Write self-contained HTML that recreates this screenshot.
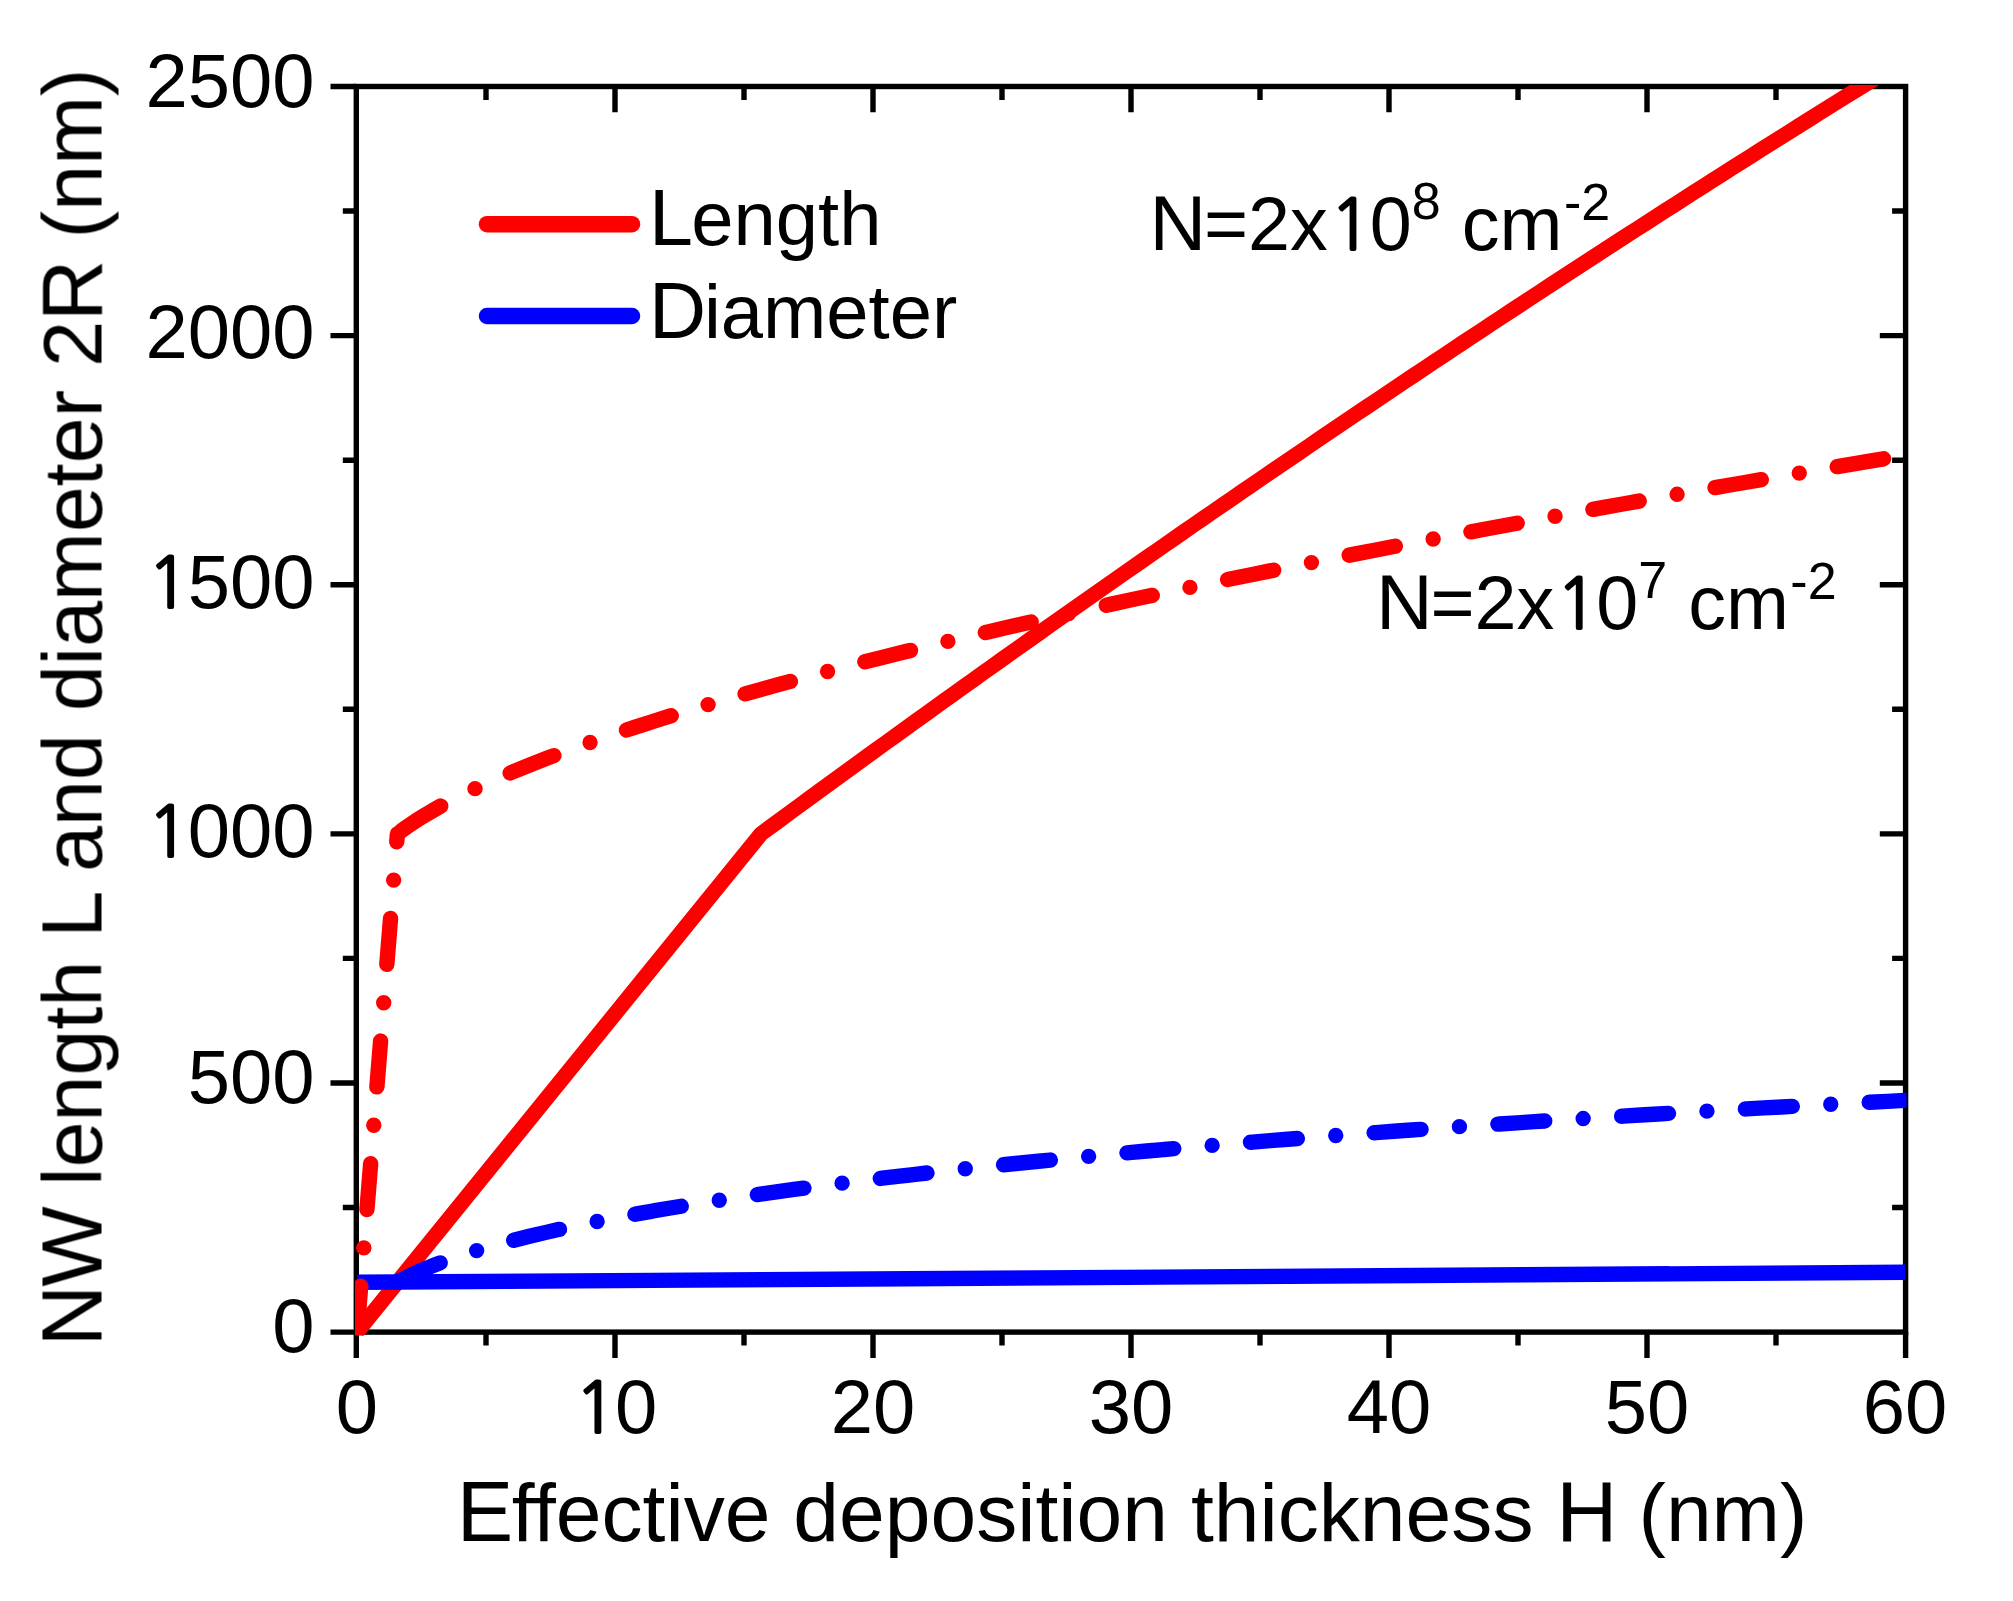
<!DOCTYPE html><html><head><meta charset="utf-8"><style>html,body{margin:0;padding:0;background:#fff;}svg{display:block}text{font-family:"Liberation Sans",Arial,sans-serif;fill:#000}</style></head><body>
<svg width="2013" height="1601" viewBox="0 0 2013 1601">
<rect x="0" y="0" width="2013" height="1601" fill="#fff"/>
<defs><clipPath id="pc"><rect x="355" y="85" width="1551.5" height="1250.5"/></clipPath><filter id="soft" x="0" y="0" width="100%" height="100%" filterUnits="userSpaceOnUse"><feGaussianBlur stdDeviation="0.6"/></filter></defs>
<g filter="url(#soft)">
<rect x="356.3" y="86.5" width="1549.30" height="1245.60" fill="none" stroke="#000" stroke-width="5.4"/>
<path d="M330.50,1332.10H356.3M342.80,1207.54H356.3M1905.6,1207.54H1892.10M330.50,1082.98H356.3M1905.6,1082.98H1879.80M342.80,958.42H356.3M1905.6,958.42H1892.10M330.50,833.86H356.3M1905.6,833.86H1879.80M342.80,709.30H356.3M1905.6,709.30H1892.10M330.50,584.74H356.3M1905.6,584.74H1879.80M342.80,460.18H356.3M1905.6,460.18H1892.10M330.50,335.62H356.3M1905.6,335.62H1879.80M342.80,211.06H356.3M1905.6,211.06H1892.10M330.50,86.50H356.3M356.30,1332.1V1357.90M486.00,1332.1V1345.60M486.00,86.5V100.00M615.00,1332.1V1357.90M615.00,86.5V112.30M744.00,1332.1V1345.60M744.00,86.5V100.00M873.00,1332.1V1357.90M873.00,86.5V112.30M1002.00,1332.1V1345.60M1002.00,86.5V100.00M1131.00,1332.1V1357.90M1131.00,86.5V112.30M1260.00,1332.1V1345.60M1260.00,86.5V100.00M1389.00,1332.1V1357.90M1389.00,86.5V112.30M1518.00,1332.1V1345.60M1518.00,86.5V100.00M1647.00,1332.1V1357.90M1647.00,86.5V112.30M1776.00,1332.1V1345.60M1776.00,86.5V100.00M1905.60,1332.1V1357.90" stroke="#000" stroke-width="5.4" fill="none"/>
<g clip-path="url(#pc)" fill="none" stroke-width="15.40" stroke-linecap="round" stroke-linejoin="round">
<path d="M357.00,1332.10 L761.03,833.86 L770.64,826.78 L780.25,819.72 L789.87,812.66 L799.48,805.62 L809.09,798.58 L818.71,791.55 L828.32,784.53 L837.93,777.53 L847.55,770.53 L857.16,763.54 L866.77,756.56 L876.39,749.59 L886.00,742.63 L895.61,735.68 L905.23,728.74 L914.84,721.81 L924.45,714.89 L934.07,707.98 L943.68,701.08 L953.29,694.19 L962.91,687.30 L972.52,680.43 L982.13,673.57 L991.75,666.72 L1001.36,659.87 L1010.97,653.04 L1020.58,646.21 L1030.20,639.40 L1039.81,632.60 L1049.42,625.80 L1059.04,619.02 L1068.65,612.24 L1078.26,605.47 L1087.88,598.72 L1097.49,591.97 L1107.10,585.23 L1116.72,578.51 L1126.33,571.79 L1135.94,565.08 L1145.56,558.38 L1155.17,551.70 L1164.78,545.02 L1174.40,538.35 L1184.01,531.69 L1193.62,525.04 L1203.24,518.40 L1212.85,511.77 L1222.46,505.15 L1232.08,498.54 L1241.69,491.94 L1251.30,485.35 L1260.91,478.76 L1270.53,472.19 L1280.14,465.63 L1289.75,459.08 L1299.37,452.53 L1308.98,446.00 L1318.59,439.48 L1328.21,432.96 L1337.82,426.46 L1347.43,419.96 L1357.05,413.48 L1366.66,407.00 L1376.27,400.54 L1385.89,394.08 L1395.50,387.63 L1405.11,381.20 L1414.73,374.77 L1424.34,368.35 L1433.95,361.95 L1443.57,355.55 L1453.18,349.16 L1462.79,342.78 L1472.41,336.41 L1482.02,330.05 L1491.63,323.70 L1501.25,317.37 L1510.86,311.04 L1520.47,304.71 L1530.08,298.40 L1539.70,292.10 L1549.31,285.81 L1558.92,279.53 L1568.54,273.26 L1578.15,267.00 L1587.76,260.74 L1597.38,254.50 L1606.99,248.27 L1616.60,242.04 L1626.22,235.83 L1635.83,229.63 L1645.44,223.43 L1655.06,217.25 L1664.67,211.07 L1674.28,204.91 L1683.90,198.75 L1693.51,192.60 L1703.12,186.47 L1712.74,180.34 L1722.35,174.22 L1731.96,168.12 L1741.58,162.02 L1751.19,155.93 L1760.80,149.85 L1770.42,143.78 L1780.03,137.73 L1789.64,131.68 L1799.25,125.64 L1808.87,119.61 L1818.48,113.59 L1828.09,107.58 L1837.71,101.58 L1847.32,95.58 L1856.93,89.60 L1866.55,83.63 L1876.16,77.67 L1885.77,71.72 L1895.39,65.77 L1905.00,59.84" stroke="#f00" stroke-linecap="butt"/>
<path d="M357.00,1282.28 L1905.00,1272.31" stroke="#00f" stroke-linecap="butt"/>
<path d="M357.00,1332.10 L397.40,833.86" stroke="#f00" stroke-dasharray="46 38.5 0 38.5"/>
<path d="M397.40,833.86 L401.35,830.89 L405.29,828.03 L409.24,825.28 L413.18,822.63 L417.13,820.06 L421.07,817.57 L425.02,815.14 L428.96,812.78 L432.91,810.48 L436.85,808.23 L440.79,806.03 L444.74,803.88 L448.68,801.77 L452.63,799.70 L456.57,797.67 L460.52,795.68 L464.46,793.72 L468.41,791.79 L472.35,789.89 L476.30,788.02 L480.24,786.18 L484.19,784.36 L488.13,782.57 L492.08,780.80 L496.02,779.05 L499.97,777.33 L503.91,775.63 L507.86,773.95 L511.80,772.28 L529.44,765.06 L547.07,758.16 L564.71,751.53 L582.34,745.14 L599.98,738.96 L617.61,732.97 L635.25,727.14 L652.88,721.48 L670.52,715.95 L688.15,710.55 L705.79,705.27 L723.43,700.10 L741.06,695.03 L758.70,690.06 L776.33,685.17 L793.97,680.37 L811.60,675.65 L829.24,671.00 L846.87,666.42 L864.51,661.91 L882.14,657.46 L899.78,653.07 L917.42,648.73 L935.05,644.45 L952.69,640.22 L970.32,636.04 L987.96,631.91 L1005.59,627.82 L1023.23,623.77 L1040.86,619.77 L1058.50,615.81 L1076.13,611.88 L1093.77,607.99 L1111.41,604.14 L1129.04,600.33 L1146.68,596.54 L1164.31,592.79 L1181.95,589.07 L1199.58,585.38 L1217.22,581.72 L1234.85,578.08 L1252.49,574.48 L1270.12,570.90 L1287.76,567.35 L1305.39,563.82 L1323.03,560.32 L1340.67,556.84 L1358.30,553.38 L1375.94,549.95 L1393.57,546.54 L1411.21,543.15 L1428.84,539.78 L1446.48,536.43 L1464.11,533.10 L1481.75,529.79 L1499.38,526.50 L1517.02,523.23 L1534.66,519.98 L1552.29,516.74 L1569.93,513.53 L1587.56,510.32 L1605.20,507.14 L1622.83,503.97 L1640.47,500.82 L1658.10,497.68 L1675.74,494.56 L1693.37,491.45 L1711.01,488.36 L1728.65,485.28 L1746.28,482.22 L1763.92,479.17 L1781.55,476.13 L1799.19,473.11 L1816.82,470.10 L1834.46,467.10 L1852.09,464.12 L1869.73,461.14 L1887.36,458.18 L1905.00,455.24" stroke="#f00" stroke-dasharray="47 38.5 0 38.5" stroke-dashoffset="-4.5"/>
<path d="M397.40,1282.28 L401.35,1280.10 L405.29,1278.03 L409.24,1276.05 L413.18,1274.16 L417.13,1272.34 L421.07,1270.59 L425.02,1268.90 L428.96,1267.26 L432.91,1265.68 L436.85,1264.14 L440.79,1262.65 L444.74,1261.19 L448.68,1259.78 L452.63,1258.39 L456.57,1257.04 L460.52,1255.73 L464.46,1254.44 L468.41,1253.17 L472.35,1251.94 L476.30,1250.73 L480.24,1249.54 L484.19,1248.37 L488.13,1247.23 L492.08,1246.10 L496.02,1245.00 L499.97,1243.91 L503.91,1242.84 L507.86,1241.79 L511.80,1240.76 L529.44,1236.31 L547.07,1232.13 L564.71,1228.18 L582.34,1224.43 L599.98,1220.86 L617.61,1217.45 L635.25,1214.18 L652.88,1211.03 L670.52,1208.01 L688.15,1205.09 L705.79,1202.27 L723.43,1199.54 L741.06,1196.90 L758.70,1194.33 L776.33,1191.84 L793.97,1189.42 L811.60,1187.06 L829.24,1184.77 L846.87,1182.53 L864.51,1180.34 L882.14,1178.21 L899.78,1176.13 L917.42,1174.09 L935.05,1172.10 L952.69,1170.15 L970.32,1168.24 L987.96,1166.37 L1005.59,1164.53 L1023.23,1162.73 L1040.86,1160.97 L1058.50,1159.24 L1076.13,1157.54 L1093.77,1155.87 L1111.41,1154.23 L1129.04,1152.62 L1146.68,1151.03 L1164.31,1149.48 L1181.95,1147.94 L1199.58,1146.44 L1217.22,1144.95 L1234.85,1143.49 L1252.49,1142.06 L1270.12,1140.64 L1287.76,1139.25 L1305.39,1137.87 L1323.03,1136.52 L1340.67,1135.19 L1358.30,1133.87 L1375.94,1132.57 L1393.57,1131.29 L1411.21,1130.03 L1428.84,1128.79 L1446.48,1127.56 L1464.11,1126.35 L1481.75,1125.16 L1499.38,1123.98 L1517.02,1122.81 L1534.66,1121.66 L1552.29,1120.53 L1569.93,1119.40 L1587.56,1118.30 L1605.20,1117.20 L1622.83,1116.12 L1640.47,1115.05 L1658.10,1114.00 L1675.74,1112.96 L1693.37,1111.93 L1711.01,1110.91 L1728.65,1109.90 L1746.28,1108.91 L1763.92,1107.92 L1781.55,1106.95 L1799.19,1105.99 L1816.82,1105.04 L1834.46,1104.09 L1852.09,1103.16 L1869.73,1102.24 L1887.36,1101.33 L1905.00,1100.43" stroke="#00f" stroke-dasharray="47 38.5 0 38.5"/>
</g>
<path d="M487,224.2H632" stroke="#f00" stroke-width="16.5" stroke-linecap="round"/>
<path d="M487,316H632" stroke="#00f" stroke-width="16.5" stroke-linecap="round"/>
<text x="649" y="245.4" font-size="76"><tspan font-size="79.04">L</tspan><tspan dx="-1.69">ength</tspan></text>
<text x="649" y="337.9" font-size="76"><tspan font-size="79.04">D</tspan><tspan dx="-2.19">iameter</tspan></text>
<text x="272.23" y="1352.3" font-size="76">0</text>
<text x="187.70" y="1103.3" font-size="76">500</text>
<text x="145.43" y="856.8" font-size="76"><tspan font-family="NanumGothic, sans-serif" font-size="70.68" style="stroke:#000;stroke-width:2px" dx="1.52">1</tspan><tspan dx="-2.08">000</tspan></text>
<text x="145.43" y="607.7" font-size="76"><tspan font-family="NanumGothic, sans-serif" font-size="70.68" style="stroke:#000;stroke-width:2px" dx="1.52">1</tspan><tspan dx="-2.08">500</tspan></text>
<text x="145.43" y="358.4" font-size="76">2000</text>
<text x="145.43" y="107.3" font-size="76">2500</text>
<text x="335.87" y="1433" font-size="76">0</text>
<text x="572.73" y="1433" font-size="76"><tspan font-family="NanumGothic, sans-serif" font-size="70.68" style="stroke:#000;stroke-width:2px" dx="1.52">1</tspan><tspan dx="-2.08">0</tspan></text>
<text x="830.73" y="1433" font-size="76">20</text>
<text x="1088.73" y="1433" font-size="76">30</text>
<text x="1346.73" y="1433" font-size="76">40</text>
<text x="1604.73" y="1433" font-size="76">50</text>
<text x="1862.73" y="1433" font-size="76">60</text>
<text x="456.8" y="1541" font-size="82.2"><tspan font-size="84.67">E</tspan><tspan dx="-1.64">ffective deposition thickness </tspan><tspan font-size="84.67">H</tspan><tspan dx="-1.78"> (nm)</tspan></text>
<text x="0" y="0" font-size="82.6" transform="translate(101.5,1346.4) rotate(-90)"><tspan font-size="85.08">N</tspan><tspan font-size="85.08" dx="-1.79">W</tspan><tspan dx="-2.34"> length </tspan><tspan font-size="85.08">L</tspan><tspan dx="-4.46"> and diameter 2</tspan><tspan font-size="85.08">R</tspan><tspan dx="-1.79"> (nm)</tspan></text>
<text x="1149.5" y="249.9" font-size="75.5"><tspan font-size="78.52">N</tspan><tspan dx="-2.18">=2x</tspan><tspan font-family="NanumGothic, sans-serif" font-size="70.22" style="stroke:#000;stroke-width:2px" dx="1.51">1</tspan><tspan dx="-2.07">0</tspan><tspan font-size="52" dy="-31">8</tspan><tspan dy="31"> cm</tspan><tspan font-size="52" dy="-30" dx="1.5">-2</tspan></text>
<text x="1375.9" y="629.1" font-size="75.5"><tspan font-size="78.52">N</tspan><tspan dx="-2.18">=2x</tspan><tspan font-family="NanumGothic, sans-serif" font-size="70.22" style="stroke:#000;stroke-width:2px" dx="1.51">1</tspan><tspan dx="-2.07">0</tspan><tspan font-size="52" dy="-31">7</tspan><tspan dy="31"> cm</tspan><tspan font-size="52" dy="-30" dx="1.5">-2</tspan></text>
</g>
</svg></body></html>
